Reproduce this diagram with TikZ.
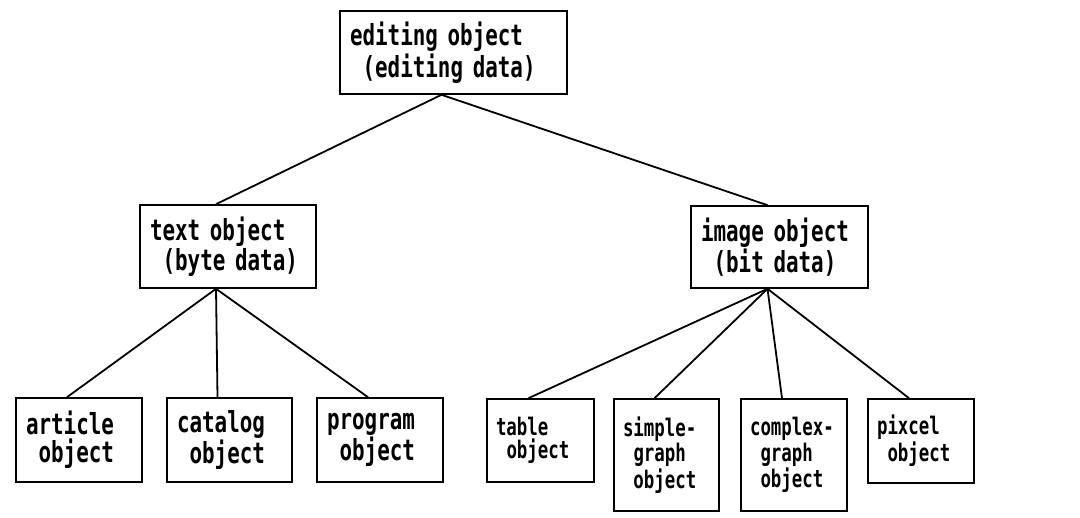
\documentclass[tikz,border=0pt]{standalone}
\usepackage{fontspec}
\newfontfamily\objfont[FakeStretch=0.72]{DejaVu Sans Mono}
\usetikzlibrary{calc}

\begin{document}
\begin{tikzpicture}[x=1pt,y=1pt]
        \tikzstyle{obj} = [draw, line width=0.8pt, align=left, inner xsep=5pt, inner ysep=0pt, font={\objfont\bfseries\fontsize{14.5}{14}\selectfont}]
        \tikzstyle{smallobj} = [obj, inner xsep=4.5pt, font={\objfont\bfseries\fontsize{12.1}{11.5}\selectfont}]
        \useasboundingbox (0,0) rectangle (540,259);

        % top level
        \node[obj, text width=103.5pt, minimum height=41.5pt] (edit) at (226.75,232.75) {editing object\\\phantom{x}(editing data)};

        % second level
        \node[obj, text width=78pt, minimum height=41.5pt] (text) at (114,135.75) {text object\\\phantom{x}(byte data)};
        \node[obj, text width=78.5pt, minimum height=41pt] (image) at (389.75,135.5) {image object\\\phantom{x}(bit data)};

        % leaves of the text object
        \node[obj, text width=53pt, minimum height=42pt] (article) at (39.5,39) {article\\\phantom{x}object};
        \node[obj, text width=52.5pt, minimum height=42pt] (catalog) at (114.75,39) {catalog\\\phantom{x}object};
        \node[obj, text width=53pt, minimum height=42pt] (program) at (190,39) {program\\\phantom{x}object};

        % leaves of the image object
        \node[smallobj, text width=44.5pt, minimum height=41.5pt] (table) at (270.25,38.75) {table\\\phantom{x}object};
        \node[smallobj, text width=43.5pt, minimum height=56pt] (simple) at (333.25,31.5) {simple-\\\phantom{x}graph\\\phantom{x}object};
        \node[smallobj, text width=44pt, minimum height=56pt] (complex) at (397,31.5) {complex-\\\phantom{x}graph\\\phantom{x}object};
        \node[smallobj, text width=44pt, minimum height=42pt] (pixcel) at (460.5,38.5) {pixcel\\\phantom{x}object};

        \foreach \p/\c in {edit/text, edit/image, text/article, text/catalog, text/program,
                image/table, image/simple, image/complex, image/pixcel}
        {
                \draw[line width=0.9pt] ([xshift=-6pt]\p.south) -- ([xshift=-6pt]\c.north);
        }
\end{tikzpicture}
\end{document}
